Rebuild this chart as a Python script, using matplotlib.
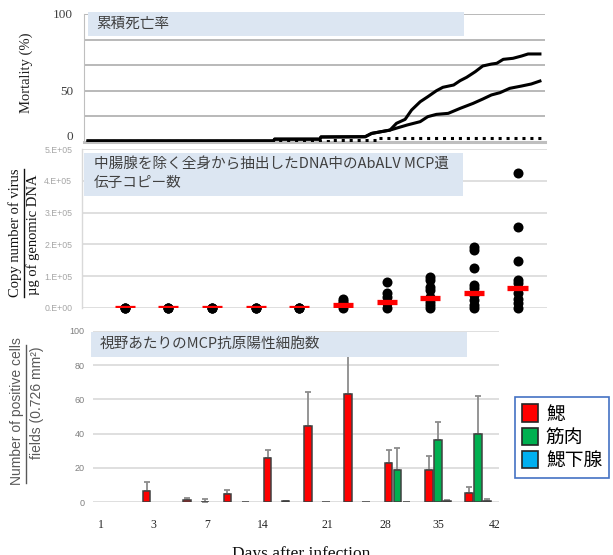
import numpy as np
import matplotlib.pyplot as plt
from matplotlib.patches import Rectangle, Patch
from matplotlib.lines import Line2D

W, H = 613, 555
CJK = ['Noto Sans CJK JP', 'DejaVu Sans']
SERIF = ['Liberation Serif', 'DejaVu Serif']
SANS = ['Liberation Sans', 'DejaVu Sans']

# ---- 累積死亡率 (%)
mort_day_a = [0, 17.2, 17.3, 21.5, 21.6, 25.7, 26.3, 28.0, 28.6, 29.4, 30.0, 30.8, 31.5, 32.3,
              32.9, 33.9, 34.5, 35.1, 35.9, 36.6, 37.4, 37.9, 38.5, 39.4, 40.2, 40.8, 41.9]
mort_a = [0.6, 0.6, 2.0, 2.0, 3.7, 3.9, 6.5, 9.1, 14.4, 17.5, 24.8, 31.3, 35.2, 39.9,
          42.6, 44.4, 47.8, 50.4, 54.8, 59.3, 60.8, 61.4, 64.5, 65.3, 67.1, 68.7, 68.7]
mort_day_b = [0, 17.2, 17.3, 21.5, 21.6, 25.7, 26.3, 28.0, 29.6, 30.8, 31.5, 32.3, 33.4,
              34.5, 35.7, 36.6, 37.4, 38.2, 39.1, 40.2, 41.1, 41.9]
mort_b = [0.6, 0.6, 2.0, 2.0, 3.7, 3.9, 6.5, 9.1, 13.1, 15.7, 19.6, 21.4, 22.2,
          26.1, 30.0, 33.4, 36.6, 38.4, 41.8, 43.6, 45.2, 47.5]
mort_day_c = [0, 22.7, 22.7, 26.9, 26.9, 42]
mort_c = [0.3, 0.3, 1.2, 1.2, 3.1, 3.1]

# ---- ウイルスコピー数 (10 sampling points)
copy_points = [
    [0, 0, 0],
    [0, 0, 0],
    [0, 0, 0],
    [0, 0, 0],
    [0, 0, 0],
    [0, 8e3, 1.5e4, 2.2e4, 2.8e4],
    [0, 1.4e4, 3.5e4, 4.5e4, 8.2e4],
    [0, 8e3, 1.9e4, 3.5e4, 5.6e4, 6.6e4, 8.7e4, 9.8e4],
    [0, 8e3, 2.4e4, 4.0e4, 6.1e4, 7.2e4, 1.24e5, 1.82e5, 1.93e5],
    [0, 1.4e4, 2.9e4, 4.5e4, 7.7e4, 8.9e4, 1.48e5, 2.54e5, 4.24e5],
]
copy_mean = [0, 0, 0, 0, 0, 7e3, 1.7e4, 3.0e4, 4.5e4, 6.1e4]
copy_yticks = [0, 1e5, 2e5, 3e5, 4e5, 5e5]
copy_ylabels = ['0.E+00', '1.E+05', '2.E+05', '3.E+05', '4.E+05', '5.E+05']

# ---- 陽性細胞数
gill = [6.6, 1.2, 4.8, 25.6, 44.5, 63.1, 23.1, 18.8, 5.2]
gill_err = [5.4, 1.1, 2.4, 4.9, 20.0, 25.0, 7.4, 8.4, 3.5]
muscle = [0, 0, 0, 0, 0, 0, 18.8, 36.3, 39.6]
muscle_err = [0, 0, 0, 0, 0, 0, 12.7, 10.5, 22.2]
hypo = [0, 0.4, 0.4, 0.6, 0.4, 0.4, 0.4, 0.9, 0.6]
hypo_err = [0, 1.3, 0, 0.3, 0, 0, 0, 0.3, 1.1]
day_labels = ['1', '3', '7', '14', '21', '28', '35', '42']
day_label_pos = [-0.357, 0.953, 2.268, 3.658, 5.27, 6.71, 8.02, 9.41]
organ_names = ['鰓', '筋肉', '鰓下腺']
organ_colors = ['#ff0000', '#00b050', '#00b0f0']

fig = plt.figure(figsize=(W / 100, H / 100), dpi=100)


def px_axes(left, top, right, bottom):
    return fig.add_axes([left / W, 1 - bottom / H, (right - left) / W, (bottom - top) / H])


def title_box(l, t, r, b, lines, tx, tys):
    fig.add_artist(Rectangle((l / W, 1 - b / H), (r - l) / W, (b - t) / H,
                             transform=fig.transFigure, facecolor='#dce6f2',
                             edgecolor='none', zorder=5))
    for s, ty in zip(lines, tys):
        fig.text(tx / W, 1 - ty / H, s, family=CJK, fontsize=10.5, color='#404040',
                 va='center', ha='left', zorder=6)


# ================= panel 1: mortality
ax1 = px_axes(84, 14, 545, 141.7)
ax1.plot(mort_day_a, mort_a, color='black', lw=2.2, zorder=3)
ax1.plot(mort_day_b, mort_b, color='black', lw=2.2, zorder=3)
ax1.plot(mort_day_c, mort_c, color='black', lw=2.2, ls=(0, (1, 1.6)), zorder=3)
ax1.set_xlim(-0.371, 42.37)
ax1.set_ylim(0, 100)
ax1.set_yticks(np.arange(0, 101, 20))
ax1.set_yticklabels(['', '', '50', '', '', '100'], family=SERIF, fontsize=9.5, color='#404040')
ax1.tick_params(axis='y', length=0, pad=8)
ax1.set_xticks([])
for y in np.arange(20, 101, 20):
    ax1.axhline(y, color='#a6a6a6', lw=1.1, zorder=1)
ax1.axhline(0, color='#bfbfbf', lw=2.2, zorder=2, clip_on=False)
for s in ['top', 'right', 'bottom']:
    ax1.spines[s].set_visible(False)
ax1.spines['left'].set_color('#bfbfbf')
ax1.spines['left'].set_linewidth(0.8)
ax1.patch.set_alpha(0)
# "0" sits a little above the axis line in the original
fig.text(73 / W, 1 - 137.5 / H, '0', family=SERIF, fontsize=9.5, color='#404040',
         ha='right', va='center')
fig.text(26 / W, 1 - 73 / H, 'Mortality (%)', rotation=90, family=SERIF, fontsize=10.5,
         color='#222222', ha='center', va='center')
title_box(88, 12, 464, 36, ['累積死亡率'], 96, [24])

# ================= panel 2: copy number
ax2 = px_axes(82, 149.3, 547, 307.7)
for i, pts in enumerate(copy_points):
    ax2.scatter([i + 1] * len(pts), pts, s=52, color='black', zorder=3, clip_on=False,
                linewidths=0)
ax2.hlines(copy_mean, np.arange(1, 11) - 0.23, np.arange(1, 11) + 0.23, color='#ff0000',
           lw=3.8, zorder=4)
ax2.set_xlim(0.022, 10.675)
ax2.set_ylim(0, 5e5)
ax2.set_yticks(copy_yticks)
ax2.set_yticklabels(copy_ylabels, family=SANS, fontsize=6.3, color='#a6a6a6')
ax2.tick_params(axis='y', length=0, pad=7)
ax2.set_xticks([])
for y in copy_yticks:
    ax2.axhline(y, color='#d9d9d9', lw=1.2, zorder=1)
for s in ['top', 'right', 'bottom']:
    ax2.spines[s].set_visible(False)
ax2.spines['left'].set_color('#d9d9d9')
ax2.spines['left'].set_linewidth(1.0)
ax2.patch.set_alpha(0)
fig.text(15 / W, 1 - 233 / H, 'Copy number of virus', rotation=90, family=SERIF,
         fontsize=10.5, color='#111111', ha='center', va='center')
fig.text(33 / W, 1 - 235 / H, 'µg of genomic DNA', rotation=90, family=SERIF,
         fontsize=10.5, color='#111111', ha='center', va='center')
fig.add_artist(Line2D([23.5 / W, 23.5 / W], [1 - 169 / H, 1 - 297 / H],
                      transform=fig.transFigure, color='#111111', lw=1.0))
title_box(84, 152.7, 463, 195.7,
          ['中腸腺を除く全身から抽出したDNA中のAbALV MCP遺', '伝子コピー数'], 94, [165, 183])

# ================= panel 3: positive cells
ax3 = px_axes(93, 330.7, 499, 502.3)
x = np.arange(1, 10)
bw = 0.186
off = 0.223
series = [(gill, gill_err, -off), (muscle, muscle_err, 0), (hypo, hypo_err, off)]
for (vals, errs, dx), col in zip(series, organ_colors):
    vals = np.array(vals)
    errs = np.array(errs)
    m = vals > 0
    ax3.bar(x[m] + dx, vals[m], width=bw, color=col, edgecolor='#404040', lw=1.1, zorder=3)
    e = m & (errs > 0)
    ax3.errorbar(x[e] + dx, vals[e], yerr=[np.zeros(e.sum()), errs[e]], fmt='none',
                 ecolor='#8c8c8c', elinewidth=1.3, capsize=2.5, capthick=1.3, zorder=2)
ax3.set_xlim(-0.556, 9.519)
ax3.set_ylim(0, 100)
ax3.set_yticks(np.arange(0, 101, 20))
ax3.set_yticklabels([str(v) for v in range(0, 101, 20)], family=SANS, fontsize=6.5,
                    color='#7f7f7f')
ax3.tick_params(axis='y', length=0, pad=6)
ax3.set_xticks(day_label_pos)
ax3.set_xticklabels(day_labels, family=SERIF, fontsize=8.5, color='#262626')
ax3.tick_params(axis='x', length=0, pad=12)
for y in np.arange(0, 101, 20):
    ax3.axhline(y, color='#d9d9d9', lw=1.2, zorder=1)
for s in ax3.spines.values():
    s.set_visible(False)
ax3.patch.set_alpha(0)
fig.text(17 / W, 1 - 411 / H, 'Number of positive cells', rotation=90, family=SANS,
         fontsize=10, color='#595959', ha='center', va='center')
fig.text(37 / W, 1 - 403 / H, 'fields (0.726 mm²)', rotation=90, family=SANS,
         fontsize=10, color='#595959', ha='center', va='center')
fig.add_artist(Line2D([25.5 / W, 25.5 / W], [1 - 345 / H, 1 - 483 / H],
                      transform=fig.transFigure, color='#595959', lw=1.0))
title_box(90.7, 331.7, 466.7, 356.7, ['視野あたりのMCP抗原陽性細胞数'], 99.3, [343.5])

fig.text(301 / W, 1 - 546 / H, 'Days after infection', family=SERIF, fontsize=12.5,
         color='#111111', ha='center', va='top')

handles = [Patch(facecolor=c, edgecolor='#262626', lw=1.2) for c in organ_colors]
leg = fig.legend(handles, organ_names, loc='upper left',
                 bbox_to_anchor=(515 / W, 1 - 397 / H), prop={'family': CJK, 'size': 13.5},
                 handlelength=0.9, handleheight=1.05, handletextpad=0.4, labelspacing=0.12,
                 borderpad=0.35, borderaxespad=0, fancybox=False, framealpha=1)
leg.get_frame().set_edgecolor('#4472c4')
leg.get_frame().set_linewidth(1.2)
leg.set_zorder(7)

fig.savefig('out.png', dpi=100)
